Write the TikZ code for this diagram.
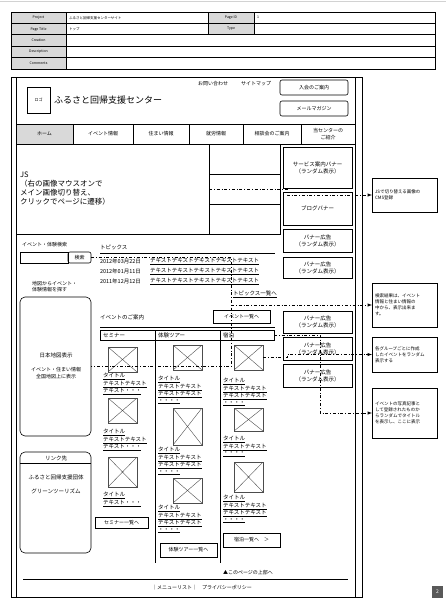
\documentclass[tikz,border=0pt]{standalone}
\usepackage{fontspec}
\setmainfont{Noto Sans CJK JP}

\begin{document}
\begin{tikzpicture}[x=1pt, y=-1pt, line width=0.6pt, >=latex,
  every node/.style={inner sep=0pt, outer sep=0pt},
  txt/.style={font=\fontsize{5.5}{6.5}\selectfont, anchor=west, align=left},
  captxt/.style={font=\fontsize{5.5}{6.5}\selectfont, anchor=north west, align=left},
  box/.style={draw, anchor=north west, font=\fontsize{5}{6.5}\selectfont, align=center},
  lbl/.style={box, fill=gray!30, font=\fontsize{3.5}{4}\selectfont, minimum height=11.4},
  fld/.style={box, minimum height=11.4},
  navcell/.style={box, minimum height=20},
  banner/.style={box, minimum width=69, font=\fontsize{5.5}{7}\selectfont},
  linkbtn/.style={box, font=\fontsize{5}{6}\selectfont},
  note/.style={box, text width=59, inner sep=3pt, align=left, font=\fontsize{4.5}{6}\selectfont},
  thumb/.style={draw=gray!60!black, anchor=north west, minimum width=29, minimum height=25,
    path picture={\draw[gray!60!black, line width=0.4pt]
      (path picture bounding box.north west) -- (path picture bounding box.south east)
      (path picture bounding box.south west) -- (path picture bounding box.north east);}},
  conn/.style={dash dot, line width=0.5pt}]
\useasboundingbox (0,0) rectangle (446,602);
\draw[gray!35, line width=1pt] (0,2) -- (446,2);

% page info table
\node[lbl, minimum width=55] (hproj) at (11,12) {Project};
\node[fld, minimum width=142] (vproj) at (66,12) {};
\node[lbl, minimum width=46] (hpid) at (208,12) {Page ID};
\node[fld, minimum width=181] (vpid) at (254,12) {};
\node[lbl, minimum width=55] (hptitle) at (11,23.4) {Page Title};
\node[fld, minimum width=142] (vptitle) at (66,23.4) {};
\node[lbl, minimum width=46] (htype) at (208,23.4) {Type};
\node[fld, minimum width=181] (vtype) at (254,23.4) {};
\node[lbl, minimum width=55] (hcreat) at (11,34.8) {Creation};
\node[fld, minimum width=369] (vcreat) at (66,34.8) {};
\node[lbl, minimum width=55] (hdesc) at (11,46.2) {Description};
\node[fld, minimum width=369] (vdesc) at (66,46.2) {};
\node[lbl, minimum width=55] (hcomm) at (11,57.6) {Comments};
\node[fld, minimum width=369] (vcomm) at (66,57.6) {};
\node[txt, font=\fontsize{3.5}{4}\selectfont] (tproj) at ([xshift=3pt]vproj.west) {ふるさと回帰支援センターサイト};
\node[txt, font=\fontsize{3.5}{4}\selectfont] (tpid) at ([xshift=3pt]vpid.west) {1};
\node[txt, font=\fontsize{3.5}{4}\selectfont] (tptitle) at ([xshift=3pt]vptitle.west) {トップ};

% page frame
\draw (11,77) rectangle (362,597);
\draw (16,77) -- (16,597) (355,77) -- (355,597);

% header
\node[box, minimum width=23, minimum height=26, font=\fontsize{4}{5}\selectfont] (logo) at (27,87) {ロゴ};
\node[txt, font=\fontsize{9}{10}\selectfont] (sitename) at (54,100) {ふるさと回帰支援センター};
\node[txt, font=\fontsize{5}{6}\selectfont] (contact) at (198,84) {お問い合わせ};
\node[txt, font=\fontsize{5}{6}\selectfont] (sitemap) at (241,84) {サイトマップ};
\node[box, rounded corners=2pt, minimum width=68, minimum height=15] (join) at (280,80) {入会のご案内};
\node[box, rounded corners=2pt, minimum width=68, minimum height=15] (mailmag) at (280,101) {メールマガジン};

% global navigation
\node[navcell, fill=gray!30, minimum width=57] (navhome) at (16,124) {ホーム};
\node[navcell, minimum width=60] (navevent) at (73,124) {イベント情報};
\node[navcell, minimum width=56] (navhouse) at (133,124) {住まい情報};
\node[navcell, minimum width=54] (navjob) at (189,124) {就労情報};
\node[navcell, minimum width=58] (navconsult) at (243,124) {相談会のご案内};
\node[navcell, minimum width=54] (navabout) at (301,124) {当センターの\\ご紹介};

% main visual (JS)
\node[box, minimum width=193, minimum height=90] (jsarea) at (16,144) {};
\node[txt, font=\fontsize{7.5}{9}\selectfont] (jstext) at (20,189) {JS\\（右の画像マウスオンで\\メイン画像切り替え、\\クリックでページに遷移）};
\node[box, minimum width=71, minimum height=30] (jsthumba) at (209,144) {};
\node[box, minimum width=71, minimum height=30] (jsthumbb) at (209,174) {};
\node[box, minimum width=71, minimum height=30] (jsthumbc) at (209,204) {};

% right column banners
\node[banner, minimum height=41] (bnservice) at (283,147) {サービス案内バナー\\（ランダム表示）};
\node[banner, minimum height=33] (bnblog) at (283,192) {ブログバナー};
\node[banner, minimum height=23] (bnad1) at (283,229) {バナー広告\\（ランダム表示）};
\node[banner, minimum height=21] (bnad2) at (283,257) {バナー広告\\（ランダム表示）};
\node[banner, minimum height=22] (bnad3) at (283,311) {バナー広告\\（ランダム表示）};
\node[banner, minimum height=23] (bnad4) at (283,337) {バナー広告\\（ランダム表示）};
\node[banner, minimum height=23] (bnad5) at (283,364) {バナー広告\\（ランダム表示）};

% search + map + links
\node[txt, font=\fontsize{5}{6}\selectfont] (srchlbl) at (22,245) {イベント・体験検索};
\node[box, minimum width=48, minimum height=11] (srchfield) at (20,252) {};
\node[box, rounded corners=2pt, minimum width=23, minimum height=11] (srchbtn) at (68,252) {検索};
\node[txt, font=\fontsize{5}{6}\selectfont] (maplbl) at (32,287) {地図からイベント・\\体験情報を探す};
\node[box, rounded corners=5pt, minimum width=71, minimum height=139] (mapbox) at (20,297) {};
\node[font=\fontsize{5.5}{6.5}\selectfont] (maptitle) at (56,355) {日本地図表示};
\node[font=\fontsize{5}{6.5}\selectfont, align=center] (mapnote) at (56,373) {イベント・住まい情報\\全国地図上に表示};
\node[box, rounded corners=5pt, minimum width=71, minimum height=101] (linkbox) at (20,452) {};
\draw (linkbox.west |- 0,463) -- (linkbox.east |- 0,463);
\node[font=\fontsize{5.5}{6.5}\selectfont] (linkhead) at (56,458) {リンク先};
\node[font=\fontsize{5.5}{6.5}\selectfont] (linkfurusato) at (56,477) {ふるさと回帰支援団体};
\node[font=\fontsize{5.5}{6.5}\selectfont] (linkgreen) at (56,491) {グリーンツーリズム};

% topics
\node[txt] (topichead) at (100,247) {トピックス};
\draw (100,253) -- (275,253);
\node[txt] (date1) at (100,261) {2012年03月22日};
\node[txt] (date2) at (100,271) {2012年01月11日};
\node[txt] (date3) at (100,281) {2011年12月12日};
\node[txt] (topic1) at (150,261) {\underline{テキストテキストテキストテキストテキスト}};
\node[txt] (topic2) at (150,271) {\underline{テキストテキストテキストテキストテキスト}};
\node[txt] (topic3) at (150,281) {\underline{テキストテキストテキストテキストテキスト}};
\node[txt] (topiclist) at (233,294) {\underline{トピックス一覧へ}};

% events
\node[txt] (evhead) at (100,317) {イベントのご案内};
\node[linkbtn, minimum width=57, minimum height=13] (evlist) at (213,310) {イベント一覧へ};
\draw (100,327) -- (275,327);
\node[box, minimum width=55, minimum height=10] (hseminar) at (100,330) {};
\node[box, minimum width=65, minimum height=10] (htour) at (155,330) {};
\node[box, minimum width=54, minimum height=10] (hstay) at (220,330) {};
\node[txt] (tseminar) at ([xshift=3pt]hseminar.west) {セミナー};
\node[txt] (ttour) at ([xshift=3pt]htour.west) {体験ツアー};
\node[txt] (tstay) at ([xshift=3pt]hstay.west) {宿泊};
\draw (155,340) -- (155,563) (220,340) -- (220,563);

% seminar column
\node[thumb] (th1a) at (108,347) {};
\node[captxt] (cap1a) at (103,373) {\underline{タイトル}\\\underline{テキストテキスト}\\\underline{テキスト・・・}};
\node[thumb] (th1b) at (108,398) {};
\node[captxt] (cap1b) at (103,429) {\underline{タイトル}\\\underline{テキストテキスト}\\\underline{テキスト・・・}};
\node[thumb, minimum height=30] (th1c) at (108,457) {};
\node[captxt] (cap1c) at (103,492) {\underline{タイトル}\\\underline{テキスト・・・}};
\node[linkbtn, minimum width=53, minimum height=11] (semlist) at (95,517) {セミナー一覧へ};

% tour column
\node[thumb] (th2a) at (173,345) {};
\node[captxt] (cap2a) at (158,376) {\underline{タイトル}\\\underline{テキストテキスト}\\\underline{テキストテキスト}\\\underline{・・・・}};
\node[thumb, minimum height=37] (th2b) at (173,408) {};
\node[captxt] (cap2b) at (158,447) {\underline{タイトル}\\\underline{テキストテキスト}\\\underline{テキストテキスト}\\\underline{・・・・}};
\node[thumb] (th2c) at (173,478) {};
\node[captxt] (cap2c) at (158,505) {\underline{タイトル}\\\underline{テキストテキスト}\\\underline{テキストテキスト}\\\underline{・・・・}};
\node[linkbtn, minimum width=57, minimum height=14] (tourlist) at (160,543) {体験ツアー一覧へ};

% stay column
\node[thumb] (th3a) at (234,345) {};
\node[captxt] (cap3a) at (223,378) {\underline{タイトル}\\\underline{テキストテキスト}\\\underline{テキストテキスト}\\\underline{・・・・}};
\node[thumb, minimum height=23] (th3b) at (234,408) {};
\node[captxt] (cap3b) at (223,436) {\underline{タイトル}\\\underline{テキストテキスト}\\\underline{・・・・}};
\node[thumb, minimum height=30] (th3c) at (234,462) {};
\node[captxt] (cap3c) at (223,495) {\underline{タイトル}\\\underline{テキストテキスト}\\\underline{テキストテキスト}\\\underline{・・・・}};
\node[linkbtn, minimum width=57, minimum height=14] (staylist) at (223,533) {宿泊一覧へ　＞};

% footer
\node[txt, font=\fontsize{5}{6}\selectfont] (pagetop) at (223,573) {▲このページの上部へ};
\draw (23,579) -- (348,579);
\node[txt, font=\fontsize{5}{6}\selectfont] (footmenu) at (152,588) {｜メニューリスト｜　プライバシーポリシー};

% notes
\node[note, minimum height=34] (note0) at (372,178) {JSで切り替える画像の\\CMS登録};
\node[note, minimum height=44] (note1) at (372,283) {検索結果は、イベント\\情報と住まい情報の\\中から、表示出来ま\\す。};
\node[note, minimum height=35] (note2) at (372,337) {各グループごとに作成\\したイベントをランダム\\表示する};
\node[note, minimum height=50] (note3) at (372,388) {イベントの写真記事と\\して登録されたものか\\らランダムでタイトル\\を表示し、ここに表示};

% connectors
\coordinate (c0a) at (287,189);
\coordinate (c0b) at (287,195);
\draw[conn,->] (jsthumbb.west) -- (c0a) -- (c0b) -- (note0.west);
\coordinate (c1a) at (231,257.5);
\coordinate (c1b) at (231,366.5);
\coordinate (c1c) at (231,305);
\draw[conn] (srchbtn.east) -- (c1a) -- (c1b) -- (mapbox.east);
\draw[conn,->] (c1c) -- (note1.west);
\coordinate (c2a) at (287,357.5);
\coordinate (c2b) at (287,354.5);
\draw[conn,->] (th3a.east) -- (c2a) -- (c2b) -- (note2.west);
\coordinate (c3a) at (320,335);
\coordinate (c3b) at (320,413);
\draw[conn,->] (hstay.east) -- (c3a) -- (c3b) -- (note3.west);

% page badge
\node[fill=gray!70!black, anchor=north west, minimum width=11, minimum height=12, text=white, font=\fontsize{5}{5}\selectfont] (pageno) at (432,586) {2};
\end{tikzpicture}
\end{document}
